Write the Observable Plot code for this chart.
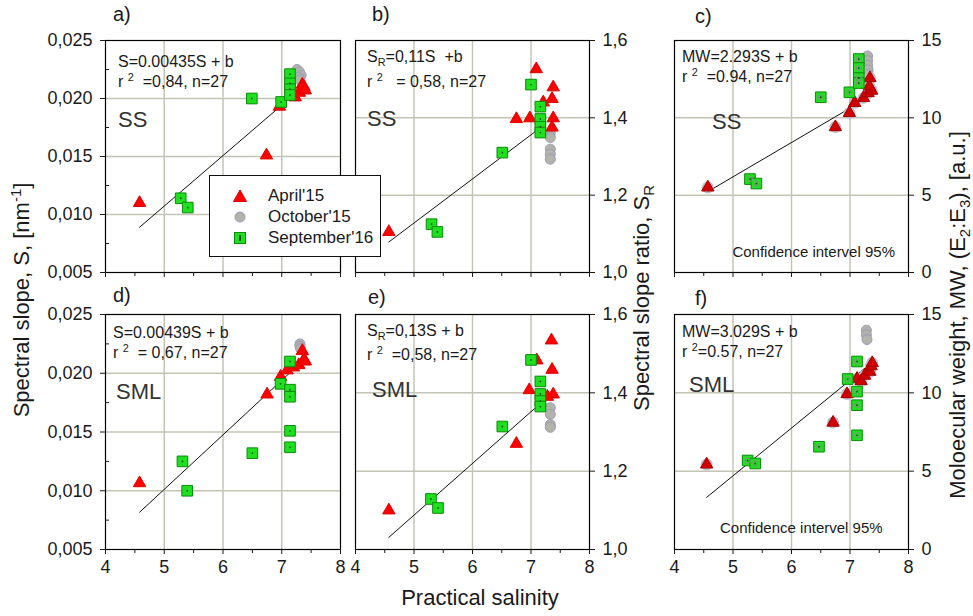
<!DOCTYPE html>
<html><head><meta charset="utf-8">
<script src="https://cdn.jsdelivr.net/npm/d3@7"></script>
<script src="https://cdn.jsdelivr.net/npm/@observablehq/plot@0.6"></script>
<style>
body{margin:0;background:#fff;}
#chart{position:relative;width:973px;height:616px;overflow:hidden;background:#fff;font-family:"Liberation Sans",Arial,sans-serif;color:#1a1a1a;}
.t{position:absolute;white-space:nowrap;line-height:1;transform:translateY(-50%);z-index:5;}
.t sup,.t sub{font-size:0.68em;line-height:0;}
.rot{transform:translate(-50%,-50%) rotate(-90deg);}
#legend{position:absolute;left:209px;top:175px;width:170px;height:80px;border:1.5px solid #111;background:#fff;z-index:6;font-size:17px;}
#legend .row{position:absolute;left:0;height:20px;display:flex;align-items:center;}
#legend svg{margin-left:22px;margin-right:20px;}
</style></head>
<body><div id="chart"></div>
<script>
// ---------- DATA ----------
const xTicks = [4, 5, 6, 7, 8];
const xMinor = [4.5, 5.5, 6.5, 7.5];
const sTicks = [0.005, 0.010, 0.015, 0.020, 0.025];
const sMinor = [0.0075, 0.0125, 0.0175, 0.0225];
const srTicks = [1.0, 1.2, 1.4, 1.6];
const mwTicks = [0, 5, 10, 15];
const seriesNames = ["April'15", "October'15", "September'16"];

// a) SS, spectral slope S
const a_aprX = [4.58, 6.74, 6.96, 7.23, 7.30, 7.35, 7.38, 7.33, 7.40];
const a_aprY = [0.0110, 0.0151, 0.0193, 0.0201, 0.0205, 0.0212, 0.0210, 0.0208, 0.0207];
const a_octX = [7.26, 7.30, 7.33, 7.29, 7.31];
const a_octY = [0.0225, 0.0223, 0.0220, 0.0218, 0.0216];
const a_sepX = [5.28, 5.40, 6.49, 6.99, 7.14, 7.14, 7.14, 7.14];
const a_sepY = [0.0114, 0.0106, 0.0200, 0.0197, 0.0221, 0.0213, 0.0208, 0.0203];

// b) SS, spectral slope ratio SR
const b_aprX = [4.57, 6.75, 6.98, 7.09, 7.21, 7.36, 7.38, 7.38, 7.36];
const b_aprY = [1.105, 1.397, 1.399, 1.526, 1.440, 1.449, 1.479, 1.399, 1.375];
const b_octX = [7.33, 7.33, 7.33, 7.33, 7.33];
const b_octY = [1.360, 1.349, 1.319, 1.306, 1.293];
const b_sepX = [5.30, 5.40, 6.51, 7.00, 7.16, 7.16, 7.16, 7.16];
const b_sepY = [1.125, 1.105, 1.310, 1.486, 1.429, 1.397, 1.377, 1.362];

// c) SS, molecular weight MW
const c_aprX = [4.57, 6.75, 6.99, 7.08, 7.23, 7.31, 7.37, 7.33, 7.34];
const c_aprY = [5.5, 9.4, 10.32, 10.97, 11.29, 11.6, 11.76, 12.04, 12.57];
const c_octX = [7.30, 7.30, 7.30, 7.31, 7.31];
const c_octY = [14.0, 13.7, 13.4, 13.1, 12.8];
const c_sepX = [5.29, 5.40, 6.50, 6.99, 7.15, 7.15, 7.15, 7.15];
const c_sepY = [6.04, 5.75, 11.33, 11.65, 13.8, 13.22, 12.57, 12.25];

// d) SML, spectral slope S
const d_aprX = [4.58, 6.75, 6.98, 7.09, 7.20, 7.29, 7.35, 7.38, 7.40];
const d_aprY = [0.01065, 0.0182, 0.0197, 0.02025, 0.0205, 0.0207, 0.0219, 0.0212, 0.0210];
const d_octX = [7.31, 7.31, 7.32];
const d_octY = [0.0225, 0.0223, 0.0221];
const d_sepX = [5.31, 5.39, 6.50, 6.98, 7.14, 7.14, 7.14, 7.14, 7.14];
const d_sepY = [0.0125, 0.0100, 0.0132, 0.0191, 0.0210, 0.0186, 0.0180, 0.0151, 0.0137];

// e) SML, spectral slope ratio SR
const e_aprX = [4.57, 6.75, 6.97, 7.10, 7.35, 7.36, 7.38, 7.28];
const e_aprY = [1.100, 1.270, 1.407, 1.483, 1.534, 1.459, 1.396, 1.390];
const e_octX = [7.33, 7.33, 7.33, 7.33];
const e_octY = [1.362, 1.345, 1.319, 1.312];
const e_sepX = [5.29, 5.41, 6.51, 7.00, 7.16, 7.16, 7.16, 7.16];
const e_sepY = [1.129, 1.106, 1.314, 1.484, 1.429, 1.397, 1.379, 1.365];

// f) SML, molecular weight MW
const f_aprX = [4.55, 6.71, 6.95, 7.12, 7.19, 7.25, 7.34, 7.36, 7.38];
const f_aprY = [5.43, 8.1, 9.92, 10.9, 10.75, 11.1, 11.35, 11.7, 11.9];
const f_octX = [7.28, 7.28, 7.29];
const f_octY = [14.0, 13.7, 13.4];
const f_sepX = [5.25, 5.38, 6.47, 6.96, 7.12, 7.12, 7.12, 7.12];
const f_sepY = [5.68, 5.49, 6.56, 10.88, 12.0, 10.08, 9.21, 7.29];

// regression lines (a..f): start x, start y, slope, end x
const fitX0 = [4.58, 4.57, 4.57, 4.58, 4.57, 4.55];
const fitY0 = [0.0089, 1.079, 5.23, 0.00817, 1.031, 3.33];
const fitSlope = [0.00435, 0.114, 2.22, 0.00464, 0.132, 3.05];
const fitX1 = [7.0, 7.09, 7.0, 7.15, 7.08, 7.35];

// ---------- LAYOUT ----------
const root = document.getElementById("chart");
const M = {l: 75, r: 75, t: 15, b: 40};
const cols = [[105, 340], [355, 589], [674, 908]];
const rows = [[40, 272], [314, 549]];
const gridColor = "#c4c4b6";
const FONT = "'Liberation Sans', Arial, sans-serif";

const pts = (xs, ys) => xs.map((x, i) => ({x, y: ys[i]}));
const fmtS = d => d.toFixed(3).replace(".", ",");
const fmtSR = d => d.toFixed(1).replace(".", ",");
const fmtMW = d => String(d);

function makePanel(p) {
  const [fx0, fx1] = cols[p.col], [fy0, fy1] = rows[p.row];
  const width = fx1 - fx0 + M.l + M.r, height = fy1 - fy0 + M.t + M.b;
  const apr = pts(p.apr[0], p.apr[1]), oct = pts(p.oct[0], p.oct[1]), sep = pts(p.sep[0], p.sep[1]);
  const k = p.fit;
  const fit = [{x: fitX0[k], y: fitY0[k]}, {x: fitX1[k], y: fitY0[k] + fitSlope[k] * (fitX1[k] - fitX0[k])}];
  const marks = [
    Plot.gridX([5, 6, 7], {stroke: gridColor, strokeOpacity: 1, strokeWidth: 1.5}),
    Plot.gridY(p.gridY, {stroke: gridColor, strokeOpacity: 1, strokeWidth: 1.5}),
    Plot.line(fit, {x: "x", y: "y", stroke: "#111", strokeWidth: 1}),
    Plot.dot(oct, {x: "x", y: "y", r: 5, fill: "#b3b3ab", stroke: "#9c9cba", strokeWidth: 1})
  ];
  if (p.dark) marks.push(Plot.dot(apr, {x: "x", y: "y", r: 6, fill: "#bdbdc8", stroke: null}));
  marks.push(Plot.dot(apr, {x: "x", y: "y", symbol: "triangle", r: 4.6,
    fill: p.dark ? "#d00000" : "#ff0000", stroke: p.dark ? "#a80000" : "#e00000", strokeWidth: 1}));
  marks.push(Plot.dot(sep, {x: "x", y: "y", symbol: "square", r: 6, fill: "#1ee01e", stroke: "#0a8a0a", strokeWidth: 1}));
  if (p.dark) marks.push(Plot.dot(sep, {x: "x", y: "y", r: 2.6, fill: "none", stroke: "#8a8a8a", strokeWidth: 1}));
  marks.push(Plot.dot(sep, {x: "x", y: "y", r: 0.9, fill: "#055005", stroke: null}));
  marks.push(Plot.frame({stroke: "#000", strokeWidth: 1.2}));
  marks.push(Plot.axisX(xTicks, {anchor: "bottom", tickSize: 5, tickPadding: 6,
    tickFormat: p.row ? (d => String(d)) : (() => ""), fontSize: 18, label: null}));
  marks.push(Plot.axisX(xMinor, {anchor: "bottom", tickSize: 4, tickFormat: () => "", label: null}));
  marks.push(Plot.axisY(p.yTicks, {anchor: p.yAnchor, tickSize: 5, tickPadding: 8, tickFormat: p.yFormat, fontSize: 18, label: null}));
  if (p.yMinor) marks.push(Plot.axisY(p.yMinor, {anchor: p.yAnchor, tickSize: -4, tickFormat: () => "", label: null}));
  const svg = Plot.plot({
    width, height, marginLeft: M.l, marginRight: M.r, marginTop: M.t, marginBottom: M.b,
    x: {domain: [4, 8], label: null}, y: {domain: p.yDomain, label: null},
    style: {background: "transparent", overflow: "visible"},
    marks
  });
  svg.style.position = "absolute";
  svg.style.left = (fx0 - M.l) + "px";
  svg.style.top = (fy0 - M.t) + "px";
  svg.style.maxWidth = "none";
  svg.style.background = "transparent";
  svg.style.overflow = "visible";
  svg.style.fontFamily = FONT;
  svg.style.color = "#1a1a1a";
  root.appendChild(svg);
}

makePanel({col: 0, row: 0, yDomain: [0.005, 0.025], yTicks: sTicks, yMinor: sMinor, yAnchor: "left", yFormat: fmtS,
  gridY: [0.010, 0.015, 0.020], apr: [a_aprX, a_aprY], oct: [a_octX, a_octY], sep: [a_sepX, a_sepY], fit: 0});
makePanel({col: 1, row: 0, yDomain: [1.0, 1.6], yTicks: srTicks, yAnchor: "right", yFormat: fmtSR,
  gridY: [1.2, 1.4], apr: [b_aprX, b_aprY], oct: [b_octX, b_octY], sep: [b_sepX, b_sepY], fit: 1});
makePanel({col: 2, row: 0, yDomain: [0, 15], yTicks: mwTicks, yAnchor: "right", yFormat: fmtMW,
  gridY: [5, 10], apr: [c_aprX, c_aprY], oct: [c_octX, c_octY], sep: [c_sepX, c_sepY], fit: 2, dark: true});
makePanel({col: 0, row: 1, yDomain: [0.005, 0.025], yTicks: sTicks, yMinor: sMinor, yAnchor: "left", yFormat: fmtS,
  gridY: [0.010, 0.015, 0.020], apr: [d_aprX, d_aprY], oct: [d_octX, d_octY], sep: [d_sepX, d_sepY], fit: 3});
makePanel({col: 1, row: 1, yDomain: [1.0, 1.6], yTicks: srTicks, yAnchor: "right", yFormat: fmtSR,
  gridY: [1.2, 1.4], apr: [e_aprX, e_aprY], oct: [e_octX, e_octY], sep: [e_sepX, e_sepY], fit: 4});
makePanel({col: 2, row: 1, yDomain: [0, 15], yTicks: mwTicks, yAnchor: "right", yFormat: fmtMW,
  gridY: [5, 10], apr: [f_aprX, f_aprY], oct: [f_octX, f_octY], sep: [f_sepX, f_sepY], fit: 5, dark: true});

// ---------- TEXT ----------
function txt(html, x, y, size, cls, color) {
  const d = document.createElement("div");
  d.className = "t" + (cls ? " " + cls : "");
  d.innerHTML = html;
  d.style.left = x + "px"; d.style.top = y + "px"; d.style.fontSize = size + "px";
  if (color) d.style.color = color;
  root.appendChild(d);
  return d;
}
// panel letters
txt("a)", 113, 14, 20); txt("b)", 372, 14, 20); txt("c)", 695, 16, 20);
txt("d)", 113, 295, 20); txt("e)", 368, 297, 20); txt("f)", 695, 298, 20);
// equations
txt("S=0.00435S + b", 118, 62, 16); txt("r <sup>2</sup>&nbsp;&nbsp;=0,84, n=27", 118, 82, 16);
txt("S<sub>R</sub>=0,11S&nbsp;&nbsp;+b", 367, 57, 16); txt("r <sup>2</sup>&nbsp;&nbsp; = 0,58, n=27", 367, 82, 16);
txt("MW=2.293S + b", 682, 57, 16); txt("r <sup>2</sup>&nbsp;&nbsp;=0.94, n=27", 682, 77, 16);
txt("S=0.00439S + b", 113, 333, 16); txt("r <sup>2</sup>&nbsp;&nbsp;= 0,67, n=27", 113, 353, 16);
txt("S<sub>R</sub>=0,13S + b", 367, 331, 16); txt("r <sup>2</sup>&nbsp;&nbsp;=0,58, n=27", 367, 355, 16);
txt("MW=3.029S + b", 682, 332, 16); txt("r <sup>2</sup>=0.57, n=27", 682, 352, 16);
// site labels
txt("SS", 118, 120, 22, "", "#333"); txt("SS", 367, 119, 22, "", "#333"); txt("SS", 712, 122, 22, "", "#333");
txt("SML", 116, 392, 22, "", "#333"); txt("SML", 372, 390, 22, "", "#333"); txt("SML", 689, 385, 22, "", "#333");
// confidence notes
const ci1 = txt("Confidence intervel 95%", 895, 251, 15); ci1.style.transform = "translate(-100%,-50%)";
txt("Confidence intervel 95%", 720, 527, 15);
// axis titles
txt("Spectral slope, S, [nm<sup>-1</sup>]", 22, 300, 22, "rot");
txt("Spectral slope ratio, S<sub>R</sub>", 642, 298, 22, "rot");
txt("Moloecular weight, MW, (E<sub>2</sub>:E<sub>3</sub>), [a.u.]", 958, 315, 22, "rot");
const xt = txt("Practical salinity", 480, 598, 22); xt.style.transform = "translate(-50%,-50%)";

// ---------- LEGEND ----------
const lg = document.createElement("div");
lg.id = "legend";
const sym = [
  '<svg width="16" height="16"><path d="M8,2 L14.5,13.5 L1.5,13.5 Z" fill="#ff0000" stroke="#d00000"/></svg>',
  '<svg width="16" height="16"><circle cx="8" cy="8" r="5" fill="#b3b3ab" stroke="#9c9cba"/></svg>',
  '<svg width="16" height="16"><rect x="2.5" y="2.5" width="11" height="11" fill="#1ee01e" stroke="#0a8a0a"/><rect x="7" y="5" width="2" height="6" fill="#055005"/></svg>'
];
const rowY = [10, 31, 52];
seriesNames.forEach((name, i) => {
  const r = document.createElement("div");
  r.className = "row"; r.style.top = rowY[i] + "px";
  r.innerHTML = sym[i] + "<span>" + name + "</span>";
  lg.appendChild(r);
});
root.appendChild(lg);
</script>
</body></html>
